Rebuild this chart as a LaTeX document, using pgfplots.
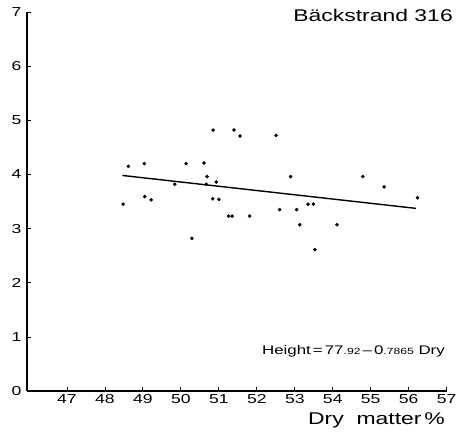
\documentclass[border=0pt]{standalone}
\usepackage{fontspec}
\setmainfont{Liberation Sans}[FakeStretch=1.35]
\usepackage{pgfplots}
\pgfplotsset{compat=1.18}
\begin{document}
\begin{tikzpicture}[x=1pt,y=1pt]
\useasboundingbox (-27,-44) rectangle (433,391);
\begin{axis}[
  at={(0,0)}, anchor=south west,
  scale only axis,
  width=419.7pt, height=379pt,
  xmin=45.95, xmax=57, ymin=0, ymax=7,
  axis lines=left,
  axis line style={-, line width=1.5pt},
  xtick={47,...,57}, ytick={0,...,7},
  tick align=inside,
  major tick length=4pt,
  tick style={black, line width=0.7pt},
  /pgf/number format/assume math mode=true,
  ticklabel style={font=\fontsize{13}{15}\selectfont},
  yticklabel style={xshift=-2pt},
  clip=false,
]
\addplot[only marks, mark=*, mark size=1.6pt, black] coordinates {
(48.48,3.45) (48.62,4.15) (49.04,4.20) (49.05,3.59) (49.22,3.53)
(49.84,3.82) (50.14,4.20) (50.29,2.82) (50.61,4.21) (50.69,3.96)
(50.67,3.82) (50.85,4.82) (50.84,3.55) (50.93,3.86) (51.00,3.54)
(51.26,3.23) (51.35,3.23) (51.40,4.82) (51.56,4.71) (51.81,3.23)
(52.51,4.72) (52.60,3.35) (52.89,3.96) (53.05,3.35) (53.13,3.07)
(53.35,3.45) (53.49,3.45) (53.53,2.61) (54.11,3.07) (54.79,3.96)
(55.35,3.77) (56.23,3.57)
};
% fitted line: Height = 7.792 - 0.07865 Dry
\addplot[black, line width=1.4pt] coordinates {(48.46,3.981) (56.19,3.373)};
\end{axis}
\node[anchor=base east, font=\fontsize{17}{20}\selectfont, inner sep=0pt] at (426,369) {Bäckstrand 316};
\node[anchor=base east, font=\fontsize{12.5}{15}\selectfont, inner sep=0pt] at (418,36)
  {Height\,=\,77{\fontsize{9}{10}\selectfont.92}\,--\,0{\fontsize{9}{10}\selectfont.7865} Dry};
\node[anchor=base east, font=\fontsize{17}{20}\selectfont, inner sep=0pt] at (418,-34) {Dry\ \ matter\,\%};
\end{tikzpicture}
\end{document}
